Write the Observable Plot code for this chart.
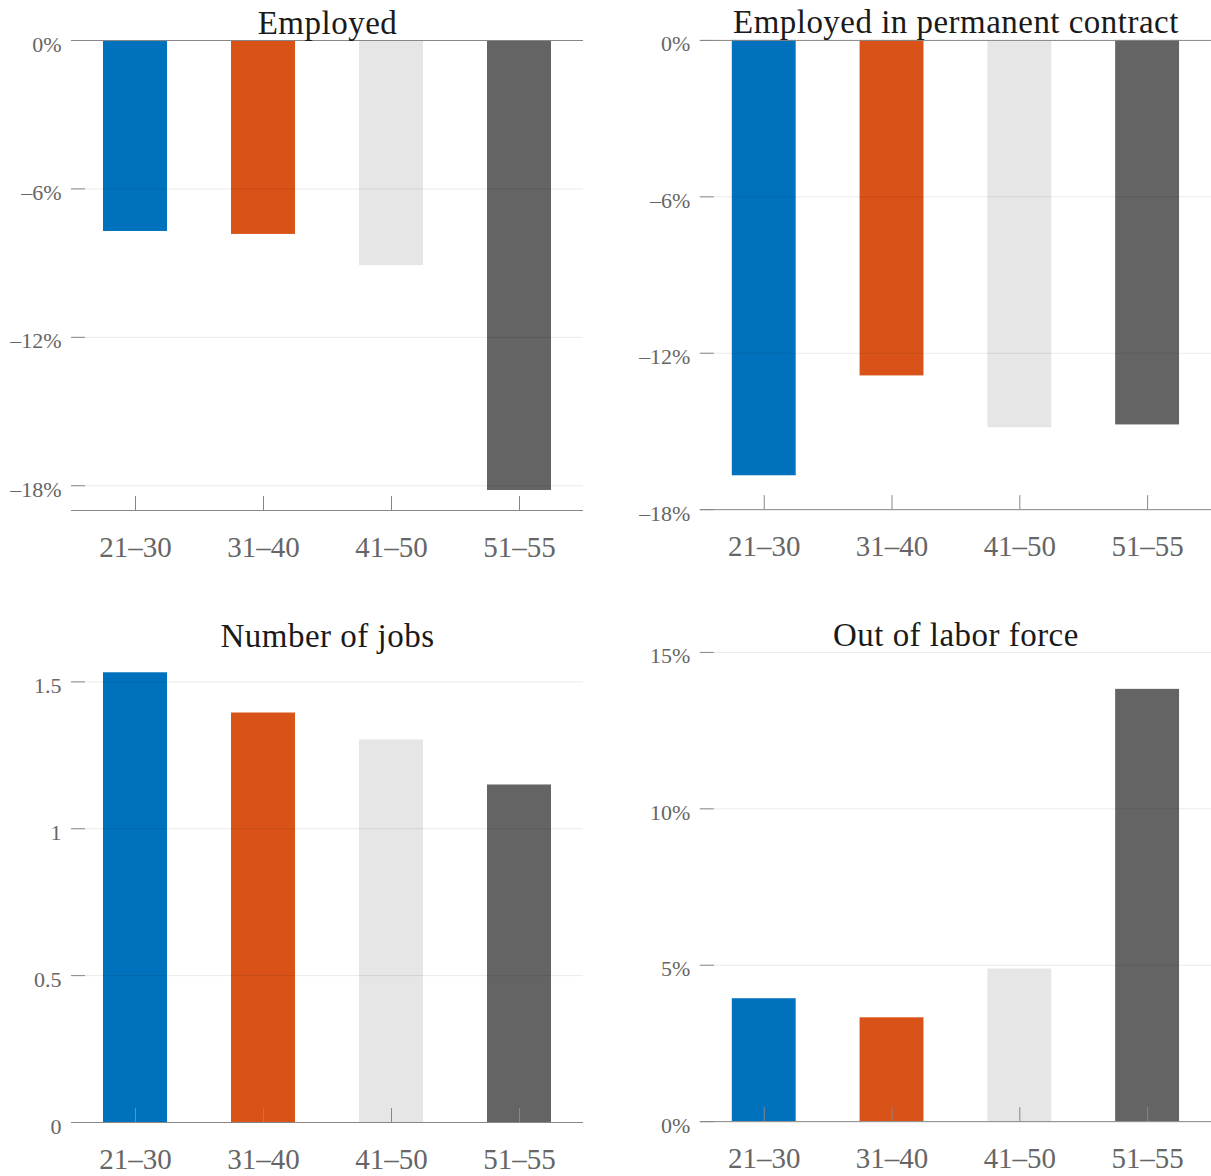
<!DOCTYPE html>
<html><head><meta charset="utf-8">
<script src="https://cdn.jsdelivr.net/npm/d3@7"></script>
<script src="https://cdn.jsdelivr.net/npm/@observablehq/plot@0.6"></script>
<style>
body{margin:0;background:#fff;overflow:hidden}
#wrap{position:relative;width:1211px;height:1176px;overflow:hidden;background:#fff}
.panel{position:absolute}
.panel svg{overflow:visible}
.panel g[aria-label="text"] text{letter-spacing:0.5px}
</style></head><body><div id="wrap"></div>
<script>
const ageGroups = ["21–30", "31–40", "41–50", "51–55"];
const barColors = ["#0072BD", "#D95319", "#E6E6E6", "#646464"];
const panelTitles = ["Employed", "Employed in permanent contract", "Number of jobs", "Out of labor force"];
const employed = [-7.72, -7.84, -9.10, -18.19];
const employedPermanent = [-16.70, -12.87, -14.86, -14.75];
const numberOfJobs = [1.531, 1.394, 1.302, 1.149];
const outOfLaborForce = [3.93, 3.32, 4.88, 13.82];
const yTicksEmployed = [0, -6, -12, -18];
const yTicksPermanent = [0, -6, -12, -18];
const yTicksJobs = [0, 0.5, 1, 1.5];
const yTicksOLF = [0, 5, 10, 15];

const pct = d => (d < 0 ? "–" : "") + Math.abs(d) + "%";
const num = d => String(d);

const AXIS = "#878787";

function panel({title, values, ticks, domain, fmt, left, top, width, ml, mr, topLine, titleDy}) {
  const height = 580, mt = 40, mb = 70;
  const plotW = width - ml - mr, plotH = height - mt - mb;
  const data = ageGroups.map((g, i) => ({group: g, value: values[i]}));
  const chart = Plot.plot({
    width, height, marginTop: mt, marginBottom: mb, marginLeft: ml, marginRight: mr,
    style: {fontFamily: "'Liberation Serif', serif", background: "transparent", color: "#666", overflow: "visible"},
    x: {domain: ageGroups, paddingInner: 0.5, paddingOuter: 0.25},
    y: {domain},
    color: {domain: ageGroups, range: barColors},
    marks: [
      Plot.barY(data, {x: "group", y: "value", fill: "group"}),
      Plot.ruleY(ticks, {stroke: "#000", strokeOpacity: 0.085}),
      Plot.ruleY(ticks, {stroke: AXIS, insetRight: plotW - 14}),
      topLine ? Plot.ruleY([0], {stroke: AXIS}) : null,
      Plot.ruleY([domain[0]], {stroke: AXIS}),
      Plot.ruleX(ageGroups, {x: d => d, stroke: AXIS, insetTop: plotH - 14}),
      Plot.axisX({tickSize: 0, tickPadding: 26, fontSize: 29, label: null}),
      Plot.axisY({ticks, tickFormat: fmt, tickSize: 0, tickPadding: 10, fontSize: 22, dy: 4, label: null}),
      Plot.text([title], {frameAnchor: "top", lineAnchor: "bottom", dy: titleDy, fontSize: 33, fill: "#1a1a1a"})
    ]
  });
  const div = document.createElement("div");
  div.className = "panel";
  div.style.left = left + "px";
  div.style.top = top + "px";
  div.appendChild(chart);
  document.getElementById("wrap").appendChild(div);
}

panel({title: panelTitles[0], values: employed, ticks: yTicksEmployed, domain: [-19, 0], fmt: pct,
  left: 0, top: 0, width: 600, ml: 71, mr: 17, topLine: true, titleDy: -7});
panel({title: panelTitles[1], values: employedPermanent, ticks: yTicksPermanent, domain: [-18, 0], fmt: pct,
  left: 605, top: 0, width: 607, ml: 95, mr: 0, topLine: true, titleDy: -7});
panel({title: panelTitles[2], values: numberOfJobs, ticks: yTicksJobs, domain: [0, 1.6], fmt: num,
  left: 0, top: 612, width: 600, ml: 71, mr: 17, topLine: false, titleDy: -6});
panel({title: panelTitles[3], values: outOfLaborForce, ticks: yTicksOLF, domain: [0, 15], fmt: pct,
  left: 605, top: 612, width: 607, ml: 95, mr: 0, topLine: false, titleDy: -6});
</script></body></html>
